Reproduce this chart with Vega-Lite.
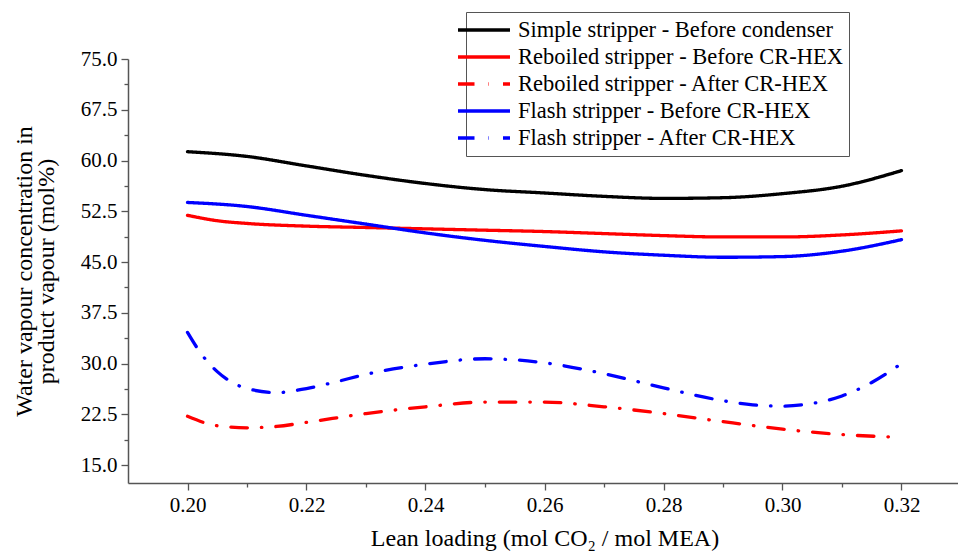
{
  "$schema": "https://vega.github.io/schema/vega-lite/v6.json",
  "width": 833,
  "height": 424,
  "autosize": {"type": "none"},
  "padding": {"left": 128, "top": 59, "right": 0, "bottom": 71},
  "background": "white",
  "config": {"view": {"stroke": null}, "font": "Liberation Serif"},
  "data": {
    "values": [
      {"x": 0.20, "y": 61.3, "s": "Simple stripper - Before condenser"},
      {"x": 0.21, "y": 60.6, "s": "Simple stripper - Before condenser"},
      {"x": 0.22, "y": 59.2, "s": "Simple stripper - Before condenser"},
      {"x": 0.23, "y": 57.8, "s": "Simple stripper - Before condenser"},
      {"x": 0.24, "y": 56.6, "s": "Simple stripper - Before condenser"},
      {"x": 0.25, "y": 55.7, "s": "Simple stripper - Before condenser"},
      {"x": 0.26, "y": 55.2, "s": "Simple stripper - Before condenser"},
      {"x": 0.27, "y": 54.7, "s": "Simple stripper - Before condenser"},
      {"x": 0.28, "y": 54.4, "s": "Simple stripper - Before condenser"},
      {"x": 0.29, "y": 54.5, "s": "Simple stripper - Before condenser"},
      {"x": 0.30, "y": 55.1, "s": "Simple stripper - Before condenser"},
      {"x": 0.31, "y": 56.2, "s": "Simple stripper - Before condenser"},
      {"x": 0.32, "y": 58.5, "s": "Simple stripper - Before condenser"},

      {"x": 0.20, "y": 51.9, "s": "Reboiled stripper - Before CR-HEX"},
      {"x": 0.205, "y": 51.1, "s": "Reboiled stripper - Before CR-HEX"},
      {"x": 0.21, "y": 50.7, "s": "Reboiled stripper - Before CR-HEX"},
      {"x": 0.22, "y": 50.3, "s": "Reboiled stripper - Before CR-HEX"},
      {"x": 0.23, "y": 50.1, "s": "Reboiled stripper - Before CR-HEX"},
      {"x": 0.24, "y": 49.9, "s": "Reboiled stripper - Before CR-HEX"},
      {"x": 0.25, "y": 49.7, "s": "Reboiled stripper - Before CR-HEX"},
      {"x": 0.26, "y": 49.5, "s": "Reboiled stripper - Before CR-HEX"},
      {"x": 0.27, "y": 49.2, "s": "Reboiled stripper - Before CR-HEX"},
      {"x": 0.28, "y": 48.9, "s": "Reboiled stripper - Before CR-HEX"},
      {"x": 0.29, "y": 48.7, "s": "Reboiled stripper - Before CR-HEX"},
      {"x": 0.30, "y": 48.7, "s": "Reboiled stripper - Before CR-HEX"},
      {"x": 0.31, "y": 49.0, "s": "Reboiled stripper - Before CR-HEX"},
      {"x": 0.32, "y": 49.6, "s": "Reboiled stripper - Before CR-HEX"},

      {"x": 0.20, "y": 22.2, "s": "Reboiled stripper - After CR-HEX"},
      {"x": 0.205, "y": 20.8, "s": "Reboiled stripper - After CR-HEX"},
      {"x": 0.21, "y": 20.5, "s": "Reboiled stripper - After CR-HEX"},
      {"x": 0.215, "y": 20.7, "s": "Reboiled stripper - After CR-HEX"},
      {"x": 0.22, "y": 21.3, "s": "Reboiled stripper - After CR-HEX"},
      {"x": 0.23, "y": 22.6, "s": "Reboiled stripper - After CR-HEX"},
      {"x": 0.24, "y": 23.6, "s": "Reboiled stripper - After CR-HEX"},
      {"x": 0.25, "y": 24.3, "s": "Reboiled stripper - After CR-HEX"},
      {"x": 0.26, "y": 24.3, "s": "Reboiled stripper - After CR-HEX"},
      {"x": 0.27, "y": 23.6, "s": "Reboiled stripper - After CR-HEX"},
      {"x": 0.28, "y": 22.6, "s": "Reboiled stripper - After CR-HEX"},
      {"x": 0.29, "y": 21.4, "s": "Reboiled stripper - After CR-HEX"},
      {"x": 0.30, "y": 20.3, "s": "Reboiled stripper - After CR-HEX"},
      {"x": 0.31, "y": 19.5, "s": "Reboiled stripper - After CR-HEX"},
      {"x": 0.32, "y": 19.1, "s": "Reboiled stripper - After CR-HEX"},

      {"x": 0.20, "y": 53.8, "s": "Flash stripper - Before CR-HEX"},
      {"x": 0.21, "y": 53.2, "s": "Flash stripper - Before CR-HEX"},
      {"x": 0.22, "y": 51.9, "s": "Flash stripper - Before CR-HEX"},
      {"x": 0.23, "y": 50.6, "s": "Flash stripper - Before CR-HEX"},
      {"x": 0.24, "y": 49.3, "s": "Flash stripper - Before CR-HEX"},
      {"x": 0.25, "y": 48.2, "s": "Flash stripper - Before CR-HEX"},
      {"x": 0.26, "y": 47.3, "s": "Flash stripper - Before CR-HEX"},
      {"x": 0.27, "y": 46.5, "s": "Flash stripper - Before CR-HEX"},
      {"x": 0.28, "y": 46.0, "s": "Flash stripper - Before CR-HEX"},
      {"x": 0.29, "y": 45.7, "s": "Flash stripper - Before CR-HEX"},
      {"x": 0.30, "y": 45.8, "s": "Flash stripper - Before CR-HEX"},
      {"x": 0.31, "y": 46.6, "s": "Flash stripper - Before CR-HEX"},
      {"x": 0.32, "y": 48.3, "s": "Flash stripper - Before CR-HEX"},

      {"x": 0.20, "y": 34.6, "s": "Flash stripper - After CR-HEX"},
      {"x": 0.2025, "y": 31.2, "s": "Flash stripper - After CR-HEX"},
      {"x": 0.205, "y": 28.8, "s": "Flash stripper - After CR-HEX"},
      {"x": 0.2075, "y": 27.2, "s": "Flash stripper - After CR-HEX"},
      {"x": 0.21, "y": 26.3, "s": "Flash stripper - After CR-HEX"},
      {"x": 0.215, "y": 25.7, "s": "Flash stripper - After CR-HEX"},
      {"x": 0.22, "y": 26.3, "s": "Flash stripper - After CR-HEX"},
      {"x": 0.225, "y": 27.3, "s": "Flash stripper - After CR-HEX"},
      {"x": 0.23, "y": 28.4, "s": "Flash stripper - After CR-HEX"},
      {"x": 0.24, "y": 29.9, "s": "Flash stripper - After CR-HEX"},
      {"x": 0.25, "y": 30.7, "s": "Flash stripper - After CR-HEX"},
      {"x": 0.26, "y": 30.1, "s": "Flash stripper - After CR-HEX"},
      {"x": 0.27, "y": 28.5, "s": "Flash stripper - After CR-HEX"},
      {"x": 0.28, "y": 26.4, "s": "Flash stripper - After CR-HEX"},
      {"x": 0.29, "y": 24.5, "s": "Flash stripper - After CR-HEX"},
      {"x": 0.295, "y": 23.9, "s": "Flash stripper - After CR-HEX"},
      {"x": 0.30, "y": 23.7, "s": "Flash stripper - After CR-HEX"},
      {"x": 0.305, "y": 24.1, "s": "Flash stripper - After CR-HEX"},
      {"x": 0.31, "y": 25.2, "s": "Flash stripper - After CR-HEX"},
      {"x": 0.315, "y": 27.2, "s": "Flash stripper - After CR-HEX"},
      {"x": 0.32, "y": 30.0, "s": "Flash stripper - After CR-HEX"}
    ]
  },
  "mark": {"type": "line", "interpolate": "monotone", "strokeWidth": 3.3, "strokeCap": "round", "strokeJoin": "round"},
  "encoding": {
    "x": {
      "field": "x",
      "type": "quantitative",
      "scale": {"domain": [0.19, 0.33], "nice": false, "zero": false},
      "axis": {
        "title": "Lean loading (mol CO₂ / mol MEA)",
        "titleFont": "Liberation Serif",
        "titleFontSize": 24,
        "titleFontWeight": "normal",
        "titleColor": "black",
        "titlePadding": 11,
        "values": [0.20, 0.21, 0.22, 0.23, 0.24, 0.25, 0.26, 0.27, 0.28, 0.29, 0.30, 0.31, 0.32, 0.33],
        "labelExpr": "round(datum.value * 100) % 2 == 0 ? format(datum.value, '.2f') : ''",
        "labelFont": "Liberation Serif",
        "labelFontSize": 21,
        "labelColor": "black",
        "labelPadding": 4,
        "labelFlush": false,
        "labelOverlap": false,
        "tickSize": {"condition": {"test": "round(datum.value * 100) % 2 == 0", "value": 7}, "value": 4},
        "tickColor": "#555",
        "tickWidth": 1.3,
        "domainColor": "#555",
        "domainWidth": 1.5,
        "grid": false
      }
    },
    "y": {
      "field": "y",
      "type": "quantitative",
      "scale": {"domain": [12.34, 75], "nice": false, "zero": false},
      "axis": {
        "title": ["Water vapour concentration in", "product vapour (mol%)"],
        "titleFont": "Liberation Serif",
        "titleFontSize": 24,
        "titleFontWeight": "normal",
        "titleColor": "black",
        "titleLineHeight": 22,
        "titlePadding": 22,
        "values": [15, 18.75, 22.5, 26.25, 30, 33.75, 37.5, 41.25, 45, 48.75, 52.5, 56.25, 60, 63.75, 67.5, 71.25, 75],
        "labelExpr": "abs(datum.value / 7.5 - round(datum.value / 7.5)) < 0.001 ? format(datum.value, '.1f') : ''",
        "labelFont": "Liberation Serif",
        "labelFontSize": 21,
        "labelColor": "black",
        "labelPadding": 4,
        "labelFlush": false,
        "labelOverlap": false,
        "tickSize": {"condition": {"test": "abs(datum.value / 7.5 - round(datum.value / 7.5)) < 0.001", "value": 7}, "value": 4},
        "tickColor": "#555",
        "tickWidth": 1.3,
        "domainColor": "#555",
        "domainWidth": 1.5,
        "grid": false
      }
    },
    "color": {
      "field": "s",
      "type": "nominal",
      "scale": {
        "domain": ["Simple stripper - Before condenser", "Reboiled stripper - Before CR-HEX", "Reboiled stripper - After CR-HEX", "Flash stripper - Before CR-HEX", "Flash stripper - After CR-HEX"],
        "range": ["#000000", "#ff0000", "#ff0000", "#0000ff", "#0000ff"]
      },
      "legend": {
        "title": null,
        "orient": "none",
        "legendX": 338,
        "legendY": -47,
        "symbolType": "M-2.6,0H2.6",
        "symbolSize": 400,
        "symbolStrokeWidth": 3.3,
        "labelFont": "Liberation Serif",
        "labelFontSize": 22.5,
        "labelColor": "black",
        "labelLimit": 0,
        "labelOffset": 22,
        "padding": 6,
        "rowPadding": 3,
        "strokeColor": "#555",
        "fillColor": "white"
      }
    },
    "strokeDash": {
      "field": "s",
      "type": "nominal",
      "scale": {
        "domain": ["Simple stripper - Before condenser", "Reboiled stripper - Before CR-HEX", "Reboiled stripper - After CR-HEX", "Flash stripper - Before CR-HEX", "Flash stripper - After CR-HEX"],
        "range": [[1, 0], [1, 0], [16.5, 14, 0.5, 14], [1, 0], [16.5, 14, 0.5, 14]]
      },
      "legend": {
        "title": null,
        "orient": "none",
        "legendX": 338,
        "legendY": -47,
        "symbolType": "M-2.6,0H2.6",
        "symbolSize": 400,
        "symbolStrokeWidth": 3.3,
        "labelFont": "Liberation Serif",
        "labelFontSize": 22.5,
        "labelColor": "black",
        "labelLimit": 0,
        "labelOffset": 22,
        "padding": 6,
        "rowPadding": 3,
        "strokeColor": "#555",
        "fillColor": "white"
      }
    }
  }
}
